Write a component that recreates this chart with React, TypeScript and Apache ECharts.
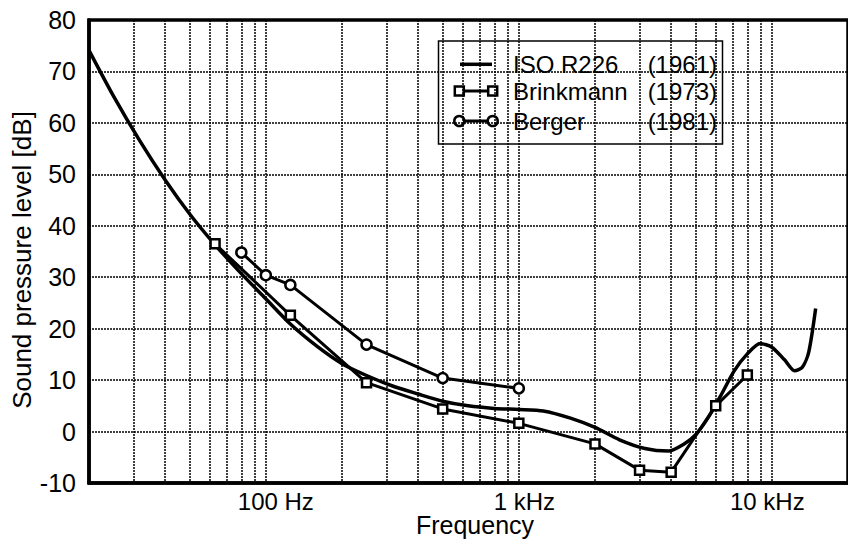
import React, { useEffect, useRef } from "react";
import * as echarts from "echarts";

// ISO R226 (1961) threshold curve
const isoFreq = [20, 25, 31.5, 40, 50, 63, 80, 100, 125, 160, 200, 250, 315, 400, 500, 630, 800, 1000, 1250, 1600, 2000, 2500, 3150, 3900, 4500, 5000, 5600, 6300, 7100, 8000, 9000, 10000, 11200, 12300, 13200, 14000, 14900];
const isoDb = [74.1, 65.2, 56.8, 48.9, 42.3, 36.3, 30.7, 25.8, 20.9, 16.5, 13.2, 10.9, 8.9, 7.3, 5.9, 5.0, 4.5, 4.3, 4.0, 2.6, 0.8, -1.6, -3.3, -3.8, -2.4, -0.6, 2.7, 7.1, 11.8, 15.1, 17.1, 16.4, 14.0, 11.8, 12.5, 15.5, 23.9];

// Brinkmann (1973)
const brinkFreq = [63, 125, 250, 500, 1000, 2000, 3000, 4000, 6000, 8000];
const brinkDb = [36.5, 22.6, 9.5, 4.4, 1.6, -2.4, -7.5, -7.9, 5.0, 11.0];

// Berger (1981)
const bergerFreq = [80, 100, 125, 250, 500, 1000];
const bergerDb = [34.8, 30.4, 28.5, 16.9, 10.4, 8.4];

// axis
const xMinFreq = 20;
const xMaxFreq = 20000;
const gridFreqs = [30, 40, 50, 60, 70, 80, 90, 100, 200, 300, 400, 500, 600, 700, 800, 900, 1000, 2000, 3000, 4000, 5000, 6000, 7000, 8000, 9000, 10000];
const xLabelFreqs = [100, 1000, 10000];
const xLabelTexts = ["100 Hz", "1 kHz", "10 kHz"];
const yMin = -10;
const yMax = 80;
const yStep = 10;

const seriesNames = ["ISO R226", "Brinkmann", "Berger"];
const seriesYears = ["(1961)", "(1973)", "(1981)"];

const FONT = "'Liberation Sans', Arial, Helvetica, sans-serif";

const toXY = (f: number[], d: number[]) => f.map((v, i) => [Math.log10(v), d[i]]);

export default function App() {
  const ref = useRef<HTMLDivElement>(null);
  useEffect(() => {
    if (!ref.current) return;
    const chart = echarts.init(ref.current, undefined, { renderer: "svg" });

    const rowY = [64.3, 91, 121];
    const legendChildren: any[] = [
      {
        type: "rect",
        shape: { x: 438.5, y: 41, width: 284, height: 103 },
        style: { fill: "#fff", stroke: "#000", lineWidth: 1.5 },
      },
      {
        type: "line",
        shape: { x1: 460, y1: rowY[0], x2: 492, y2: rowY[0] },
        style: { stroke: "#000", lineWidth: 3.5 },
      },
      {
        type: "line",
        shape: { x1: 459, y1: rowY[1], x2: 493, y2: rowY[1] },
        style: { stroke: "#000", lineWidth: 3 },
      },
      {
        type: "rect",
        shape: { x: 459.3 - 4.5, y: rowY[1] - 4.5, width: 9, height: 9 },
        style: { fill: "#fff", stroke: "#000", lineWidth: 2.5 },
      },
      {
        type: "rect",
        shape: { x: 492.7 - 4.5, y: rowY[1] - 4.5, width: 9, height: 9 },
        style: { fill: "#fff", stroke: "#000", lineWidth: 2.5 },
      },
      {
        type: "line",
        shape: { x1: 459, y1: rowY[2], x2: 493, y2: rowY[2] },
        style: { stroke: "#000", lineWidth: 3 },
      },
      {
        type: "circle",
        shape: { cx: 459.3, cy: rowY[2], r: 5 },
        style: { fill: "#fff", stroke: "#000", lineWidth: 2.5 },
      },
      {
        type: "circle",
        shape: { cx: 492.7, cy: rowY[2], r: 5 },
        style: { fill: "#fff", stroke: "#000", lineWidth: 2.5 },
      },
    ];
    seriesNames.forEach((n, i) => {
      legendChildren.push({
        type: "text",
        x: 513,
        y: rowY[i],
        style: { text: n, fill: "#000", font: `24px ${FONT}`, align: "left", verticalAlign: "middle" },
      });
      legendChildren.push({
        type: "text",
        x: 717,
        y: rowY[i],
        style: { text: seriesYears[i], fill: "#000", font: `24px ${FONT}`, align: "right", verticalAlign: "middle" },
      });
    });

    const gridLine = { color: "#000", width: 1.5, type: [2, 1] as any };

    chart.setOption({
      animation: false,
      backgroundColor: "#fff",
      textStyle: { fontFamily: FONT },
      grid: {
        left: 89,
        top: 20,
        bottom: 58,
        right: -12,
        show: true,
        borderColor: "#000",
        borderWidth: 3.5,
        backgroundColor: "transparent",
      },
      xAxis: {
        type: "value",
        min: Math.log10(xMinFreq),
        max: Math.log10(xMaxFreq),
        axisLine: { show: true, onZero: false, lineStyle: { color: "#000", width: 3.5 } },
        axisTick: { show: false, customValues: gridFreqs.map((f) => Math.log10(f)) },
        splitLine: { show: true, lineStyle: gridLine },
        axisLabel: {
          customValues: xLabelFreqs.map((f) => Math.log10(f)),
          formatter: (v: number) => {
            const i = xLabelFreqs.findIndex((f) => Math.abs(Math.log10(f) - v) < 1e-6);
            return i >= 0 ? `{l${i}|${xLabelTexts[i]}}` : "";
          },
          rich: {
            l0: { fontSize: 24, fontFamily: FONT, color: "#000", padding: [0, 0, 0, 20] },
            l1: { fontSize: 24, fontFamily: FONT, color: "#000", padding: [0, 0, 0, 11] },
            l2: { fontSize: 24, fontFamily: FONT, color: "#000", padding: [0, 9, 0, 0] },
          },
          color: "#000",
          fontSize: 24,
          fontFamily: FONT,
          margin: 6,
        },
      },
      yAxis: {
        type: "value",
        min: yMin,
        max: yMax,
        interval: yStep,
        axisLine: { show: true, lineStyle: { color: "#000", width: 3.5 } },
        axisTick: { show: false },
        splitLine: { show: true, lineStyle: gridLine },
        axisLabel: { color: "#000", fontSize: 25, fontFamily: FONT, margin: 13 },
      },
      graphic: [
        {
          type: "text",
          x: 22,
          y: 260,
          rotation: Math.PI / 2,
          style: {
            text: "Sound pressure level [dB]",
            fill: "#000",
            font: `26px ${FONT}`,
            align: "center",
            verticalAlign: "middle",
          },
        },
        {
          type: "text",
          x: 475,
          y: 525,
          style: {
            text: "Frequency",
            fill: "#000",
            font: `25px ${FONT}`,
            align: "center",
            verticalAlign: "middle",
          },
        },
        { type: "group", children: legendChildren, z: 100 },
      ],
      series: [
        {
          name: seriesNames[0],
          type: "line",
          data: toXY(isoFreq, isoDb),
          smooth: 0.25,
          showSymbol: false,
          symbol: "none",
          lineStyle: { color: "#000", width: 3.5 },
          z: 3,
        },
        {
          name: seriesNames[1],
          type: "line",
          data: toXY(brinkFreq, brinkDb),
          symbol: "rect",
          symbolSize: 9,
          itemStyle: { color: "#fff", borderColor: "#000", borderWidth: 2.5 },
          lineStyle: { color: "#000", width: 3 },
          z: 4,
        },
        {
          name: seriesNames[2],
          type: "line",
          data: toXY(bergerFreq, bergerDb),
          symbol: "circle",
          symbolSize: 10,
          itemStyle: { color: "#fff", borderColor: "#000", borderWidth: 2.5 },
          lineStyle: { color: "#000", width: 3 },
          z: 4,
        },
      ],
    });
    return () => chart.dispose();
  }, []);
  return (
    <div
      ref={ref}
      style={{ position: "fixed", left: 0, top: 0, width: 848, height: 541, background: "#fff" }}
    />
  );
}
